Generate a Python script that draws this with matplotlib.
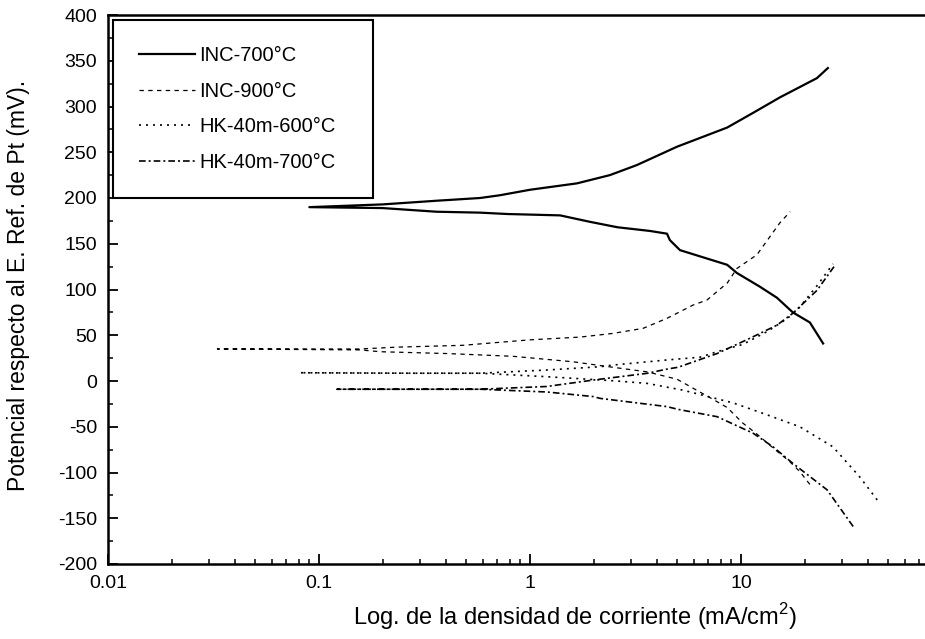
import numpy as np
import matplotlib
matplotlib.use('Agg')
import matplotlib.pyplot as plt
from matplotlib.ticker import MultipleLocator, LogLocator, FixedLocator, FixedFormatter

plt.rcParams['font.family'] = ['Liberation Sans', 'DejaVu Sans']
plt.rcParams['mathtext.fontset'] = 'custom'
plt.rcParams['mathtext.rm'] = 'Liberation Sans'
plt.rcParams['axes.unicode_minus'] = False

## polarization curves: each one has an anodic (upper) and cathodic (lower) branch
## current density in mA/cm2, potential in mV vs Pt

# INC-700C
inc700_up_i = [0.09, 0.2, 0.36, 0.58, 0.72, 1.0, 1.67, 2.39, 3.21, 4.97, 8.6, 11.4, 15.3, 22.9, 25.8]
inc700_up_e = [190, 193, 197, 200, 203, 209, 216, 225, 236, 256, 277, 293, 310, 331, 342]
inc700_dn_i = [0.09, 0.2, 0.36, 0.58, 0.78, 1.39, 1.92, 2.6, 3.7, 4.46, 4.6, 5.14, 8.6, 9.57, 12.3, 14.8, 17.6, 21.2, 24.5]
inc700_dn_e = [190, 189, 185, 184, 182.5, 181, 174, 168, 164, 161, 154, 143, 127, 118, 103, 91, 75, 64, 41]

# INC-900C
inc900_up_i = [0.033, 0.156, 0.234, 0.48, 1.0, 1.73, 2.47, 3.43, 4.46, 5.93, 6.9, 8.6, 9.57, 11.9, 15.3, 17.1]
inc900_up_e = [35, 35, 37, 39, 45, 48, 52, 57.5, 68.5, 83, 88.5, 107, 123, 138, 173, 185]
inc900_dn_i = [0.033, 0.156, 0.195, 0.405, 0.83, 1.6, 2.47, 3.59, 4.97, 7.36, 8.6, 10.2, 11.9, 14.0, 17.0, 19.0, 21.2]
inc900_dn_e = [35, 34, 32, 30, 27, 21, 15, 10, 2, -20, -29, -46, -58, -72, -88, -99, -113]

# HK-40m-600C
hk600_up_i = [0.081, 0.28, 0.58, 1.2, 2.15, 2.47, 4.46, 6.4, 7.7, 10.2, 13.3, 16.5, 18.4, 22.9, 27.3]
hk600_up_e = [9, 8.5, 8.5, 12, 15.6, 17.4, 23, 26, 32, 40, 54, 68, 77, 104, 128]
hk600_dn_i = [0.081, 0.28, 0.58, 1.2, 2.47, 3.59, 5.3, 9.2, 13.3, 19.0, 27.3, 36.6, 44.2]
hk600_dn_e = [9, 8.5, 8.5, 4.7, 0.3, -2.6, -10, -24, -37, -50, -72, -105, -130]

# HK-40m-700C
hk700_up_i = [0.122, 0.58, 1.2, 1.99, 3.59, 4.46, 5.03, 7.7, 11.0, 14.8, 17.6, 22.9, 28.0]
hk700_up_e = [-9, -9, -6, 1, 8.4, 13, 15, 30, 46.6, 61, 74, 99, 127]
hk700_dn_i = [0.122, 0.58, 1.2, 1.99, 2.15, 4.46, 5.03, 7.7, 11.4, 14.2, 17.6, 25.6, 34.0]
hk700_dn_e = [-9, -9, -12, -17, -19, -28, -31, -39, -57, -72, -90, -119, -159]

labels = ['INC-700\u00b0C', 'INC-900\u00b0C', 'HK-40m-600\u00b0C', 'HK-40m-700\u00b0C']
y_ticks = [400, 350, 300, 250, 200, 150, 100, 50, 0, -50, -100, -150, -200]
x_ticks = [0.01, 0.1, 1, 10]
x_ticklabels = ['0.01', '0.1', '1', '10']


def branch(up_i, up_e, dn_i, dn_e):
    # join cathodic (reversed) and anodic branches into one trace
    i = np.concatenate([np.array(dn_i)[::-1], np.array(up_i)[1:]])
    e = np.concatenate([np.array(dn_e)[::-1], np.array(up_e)[1:]])
    return i, e


fig = plt.figure(figsize=(9.25, 6.39), dpi=100)
ax = fig.add_axes([108/925., (639-564)/639., (925-108)/925., (564-15)/639.])

styles = [dict(ls='-', lw=1.6),
          dict(ls=(0, (3.5, 3.5)), lw=0.9),
          dict(ls=(0, (1.2, 3.0)), lw=1.2),
          dict(ls=(0, (4, 1.8, 1.2, 1.8)), lw=1.2)]

data = [branch(inc700_up_i, inc700_up_e, inc700_dn_i, inc700_dn_e),
        branch(inc900_up_i, inc900_up_e, inc900_dn_i, inc900_dn_e),
        branch(hk600_up_i, hk600_up_e, hk600_dn_i, hk600_dn_e),
        branch(hk700_up_i, hk700_up_e, hk700_dn_i, hk700_dn_e)]

for (i, e), st, lab in zip(data, styles, labels):
    ax.plot(i, e, color='black', label=lab, **st)

ax.set_xscale('log')
ax.set_xlim(0.01, 0.01 * 10 ** ((925 - 108) / 211.))
ax.set_ylim(-200, 400)

ax.xaxis.set_major_locator(FixedLocator(x_ticks))
ax.xaxis.set_major_formatter(FixedFormatter(x_ticklabels))
ax.xaxis.set_minor_locator(LogLocator(base=10, subs=np.arange(2, 10)))
ax.xaxis.set_minor_formatter(matplotlib.ticker.NullFormatter())
ax.set_yticks(y_ticks)
ax.yaxis.set_minor_locator(MultipleLocator(25))

ax.tick_params(which='major', direction='in', length=7, width=1.3, labelsize=14, pad=8)
ax.tick_params(which='minor', direction='in', length=3.5, width=1.1)
for s in ['left', 'bottom', 'top']:
    ax.spines[s].set_linewidth(1.8)
ax.spines['right'].set_visible(False)

ax.set_xlabel('Log. de la densidad de corriente (mA/cm$^\\mathregular{2}$)', fontsize=17)
ax.xaxis.set_label_coords((575 - 108) / 817., -0.068)
ax.set_ylabel('Potencial respecto al E. Ref. de Pt (mV).', fontsize=16.5)
ax.yaxis.set_label_coords(-0.096, 0.508)

top = 1 - 5/549.
leg = ax.legend(loc='upper left', bbox_to_anchor=(5/817., top - 0.5, 260/817., 0.5),
                mode='expand', fontsize=14.5, handlelength=2.75, handletextpad=0.25,
                labelspacing=0.82, borderpad=1.3, borderaxespad=0, fancybox=False,
                framealpha=1)
leg.get_frame().set_edgecolor('black')
leg.get_frame().set_linewidth(1.5)

plt.savefig('out.png', dpi=100)
